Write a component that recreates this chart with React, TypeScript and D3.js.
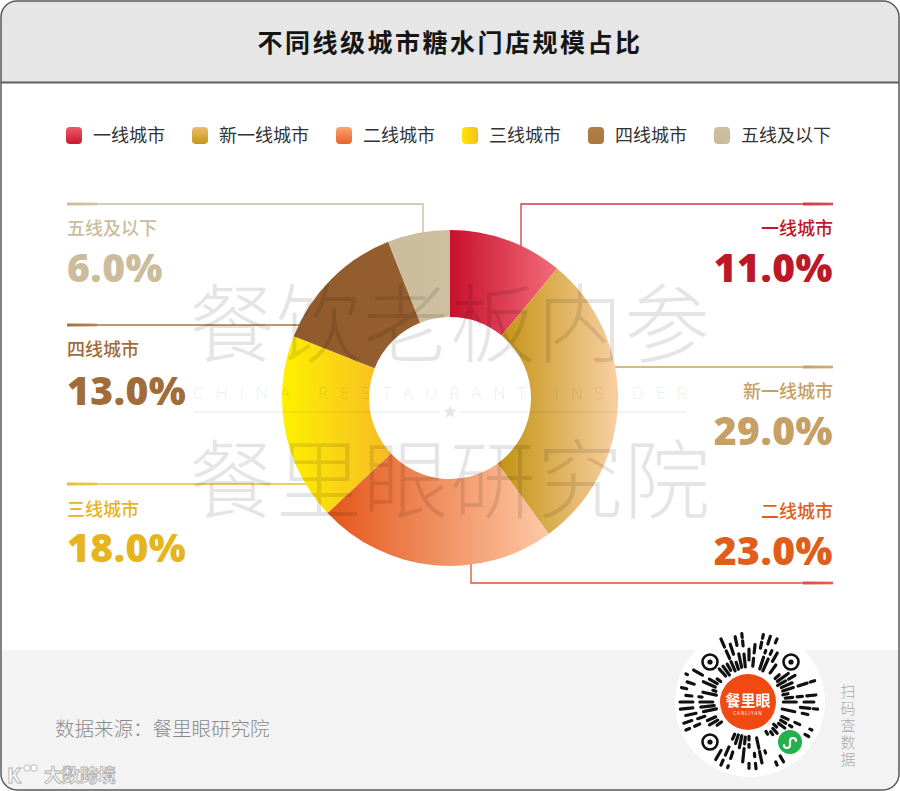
import React, { useEffect } from "react";
import * as d3 from "d3";

// ---------- data ----------
const title = "不同线级城市糖水门店规模占比";
const categories = ["一线城市", "新一线城市", "二线城市", "三线城市", "四线城市", "五线及以下"];
const shares = [11.0, 29.0, 23.0, 18.0, 13.0, 6.0];
const valueLabels = ["11.0%", "29.0%", "23.0%", "18.0%", "13.0%", "6.0%"];
const sourceNote = "数据来源：餐里眼研究院";
const qrSideText = "扫码查数据";

// ---------- styles ----------
const sliceGrad = [
  ["#c8102e", "#f26c79"],
  ["#c29210", "#f9d0a4"],
  ["#e4561a", "#fdc9a6"],
  ["#fff000", "#f6ba26"],
  ["#915a2c", "#965f30"],
  ["#cbbd9c", "#cdbf9f"],
];
const legendGrad = [
  ["#ec5a6a", "#c81a30"],
  ["#ecbc70", "#c69818"],
  ["#f9a674", "#e8602a"],
  ["#ffe600", "#f7bd24"],
  ["#b08048", "#a87640"],
  ["#cdbf9f", "#c9bb99"],
];
const textColors = ["#bd1828", "#c6a064", "#e05e1a", "#e6b41c", "#a26c38", "#cbbd9c"];
const lineColors = ["#d23a44", "#c9a262", "#de5034", "#e8bf30", "#a8733f", "#cbbd9c"];

// callout layout (index into categories)
const callouts = [
  { i: 0, side: "right", lineY: 204, elbowX: 521, labelY: 235, valueY: 282 },
  { i: 1, side: "right", lineY: 367, elbowX: null, labelY: 398, valueY: 445 },
  { i: 2, side: "right", lineY: 583, elbowX: 471, labelY: 518, valueY: 565 },
  { i: 3, side: "left", lineY: 484, elbowX: null, labelY: 516, valueY: 562 },
  { i: 4, side: "left", lineY: 325, elbowX: null, labelY: 356, valueY: 405 },
  { i: 5, side: "left", lineY: 204, elbowX: 423, labelY: 235, valueY: 282 },
];

const CJK = "'Noto Sans CJK SC', 'Noto Sans', sans-serif";
const NUM = "'Open Sans', 'Noto Sans', sans-serif";

function hash(n: number) {
  const x = Math.sin(n * 12.9898 + 78.233) * 43758.5453;
  return x - Math.floor(x);
}

export default function App() {
  useEffect(() => {
    document.body.style.margin = "0";
  }, []);

  const W = 900;
  const H = 791;
  const cx = 450;
  const cy = 398;
  const R = 168;
  const r0 = 81;

  const pie = d3
    .pie<number>()
    .sort(null)
    .value((d) => d)
    .startAngle(0)
    .endAngle(2 * Math.PI);
  const arcs = pie(shares);
  const arcGen = d3.arc<d3.PieArcDatum<number>>().innerRadius(r0).outerRadius(R);

  // legend layout
  let lx = 66;
  const legendItems = categories.map((c, i) => {
    const x = lx;
    lx += 27 + c.length * 18 + 27;
    return { c, i, x };
  });

  // leader lines
  const leaderPaths = callouts.map((co) => {
    const outerX = co.side === "right" ? 833 : 67;
    let d: string;
    if (co.elbowX != null) {
      const dx = co.elbowX - cx;
      const dy = Math.sqrt(R * R - dx * dx);
      const yEdge = co.lineY < cy ? cy - dy + 3 : cy + dy - 3;
      d = `M${outerX},${co.lineY}H${co.elbowX}V${yEdge}`;
    } else {
      const dy = co.lineY - cy;
      const dx = Math.sqrt(R * R - dy * dy);
      const xEdge = co.side === "right" ? cx + dx - 3 : cx - dx + 3;
      d = `M${outerX},${co.lineY}H${xEdge}`;
    }
    const thick = co.side === "right" ? { x1: 803, x2: 833 } : { x1: 67, x2: 97 };
    return { co, d, thick };
  });

  // QR decoration
  const qx = 749;
  const qy = 702;
  const finders = [
    [710, 662],
    [791, 662],
    [710, 742],
  ];
  const green = [790, 742];
  const avoid = [...finders, green];
  const dashes: { x1: number; y1: number; x2: number; y2: number }[] = [];
  const N = 60;
  for (let k = 0; k < N; k++) {
    const a = (k / N) * Math.PI * 2;
    let rr = 33 + hash(k) * 4;
    let j = 0;
    while (rr < 68 && j < 4) {
      const len = 2 + hash(k * 7 + j) * 12;
      const gap = 3 + hash(k * 13 + j * 3) * 6;
      const r1 = rr;
      const r2 = Math.min(rr + len, 69);
      const x1 = qx + r1 * Math.sin(a);
      const y1 = qy - r1 * Math.cos(a);
      const x2 = qx + r2 * Math.sin(a);
      const y2 = qy - r2 * Math.cos(a);
      const mx = (x1 + x2) / 2;
      const my = (y1 + y2) / 2;
      const near = avoid.some(([fx, fy]) => Math.hypot(mx - fx, my - fy) < 15);
      if (!near && hash(k * 5 + j * 11) > 0.25) dashes.push({ x1, y1, x2, y2 });
      rr = r2 + gap;
      j++;
    }
  }

  return (
    <svg
      width={W}
      height={H}
      viewBox={`0 0 ${W} ${H}`}
      style={{ position: "absolute", left: 0, top: 0, display: "block" }}
    >
      <defs>
        {sliceGrad.map((g, i) => (
          <linearGradient key={i} id={`sg${i}`} x1="0" y1="0" x2="1" y2="0">
            <stop offset="0%" stopColor={g[0]} />
            <stop offset="100%" stopColor={g[1]} />
          </linearGradient>
        ))}
        {legendGrad.map((g, i) => (
          <linearGradient
            key={i}
            id={`lg${i}`}
            x1="0"
            y1="0"
            x2={i === 3 ? "1" : "0"}
            y2={i === 3 ? "0" : "1"}
          >
            <stop offset="0%" stopColor={g[0]} />
            <stop offset="100%" stopColor={g[1]} />
          </linearGradient>
        ))}
        {lineColors.map((c, i) => (
          <linearGradient key={i} id={`tk${i}`} x1="0" y1="0" x2="1" y2="0">
            <stop offset="0%" stopColor={c} stopOpacity={1} />
            <stop offset="100%" stopColor={c} stopOpacity={0.55} />
          </linearGradient>
        ))}
        <clipPath id="card">
          <rect x={1} y={1} width={W - 2} height={H - 2} rx={16} />
        </clipPath>
      </defs>

      {/* card backgrounds */}
      <g clipPath="url(#card)">
        <rect x={0} y={0} width={W} height={H} fill="#ffffff" />
        <rect x={0} y={0} width={W} height={82} fill="#e6e6e6" />
        <rect x={0} y={650} width={W} height={H - 650} fill="#f3f3f3" />
      </g>
      <line x1={1} x2={W - 1} y1={82.5} y2={82.5} stroke="#5e5e5e" strokeWidth={2} />
      <rect
        x={1}
        y={1}
        width={W - 2}
        height={H - 2}
        rx={16}
        fill="none"
        stroke="#5a5a5a"
        strokeWidth={1.5}
      />

      {/* title */}
      <text
        x={W / 2}
        y={52}
        textAnchor="middle"
        fontFamily={CJK}
        fontSize={25}
        fontWeight={700}
        letterSpacing={2.5}
        fill="#151515"
      >
        {title}
      </text>

      {/* legend */}
      {legendItems.map(({ c, i, x }) => (
        <g key={c}>
          <rect x={x} y={127} width={16} height={17} rx={4} fill={`url(#lg${i})`} />
          <text x={x + 27} y={141.5} fontFamily={CJK} fontSize={18} fill="#333333">
            {c}
          </text>
        </g>
      ))}

      {/* leader lines */}
      {leaderPaths.map(({ co, d, thick }) => (
        <g key={co.i}>
          <path d={d} fill="none" stroke={lineColors[co.i]} strokeWidth={1.3} />
          <rect
            x={thick.x1}
            y={co.lineY - 1.5}
            width={thick.x2 - thick.x1}
            height={3}
            fill={`url(#tk${co.i})`}
          />
        </g>
      ))}

      {/* donut */}
      <g transform={`translate(${cx},${cy})`}>
        {arcs.map((a, i) => (
          <path key={i} d={arcGen(a) || ""} fill={`url(#sg${i})`} />
        ))}
      </g>

      {/* labels */}
      {callouts.map((co) => {
        const x = co.side === "right" ? 833 : 67;
        const anchor = co.side === "right" ? "end" : "start";
        return (
          <g key={co.i}>
            <text
              x={x}
              y={co.labelY}
              textAnchor={anchor}
              fontFamily={CJK}
              fontSize={18}
              fontWeight={500}
              fill={textColors[co.i]}
            >
              {categories[co.i]}
            </text>
            <text
              x={x}
              y={co.valueY}
              textAnchor={anchor}
              fontFamily={NUM}
              fontSize={39}
              fontWeight={800}
              letterSpacing={0.5}
              fill={textColors[co.i]}
            >
              {valueLabels[co.i]}
            </text>
          </g>
        );
      })}

      {/* watermark */}
      <g fill="#000" fillOpacity={0.1} fontFamily={CJK}>
        <text x={450} y={356} textAnchor="middle" fontSize={86} fontWeight={300} letterSpacing={1}>
          餐饮老板内参
        </text>
        <text
          x={193}
          y={399}
          fontFamily={NUM}
          fontSize={17}
          fontWeight={300}
          textLength={494}
          lengthAdjust="spacing"
        >
          CHINA RESTAURANT INSIDER
        </text>
        <text x={450} y={512} textAnchor="middle" fontSize={86} fontWeight={300} letterSpacing={1}>
          餐里眼研究院
        </text>
      </g>
      <g stroke="#000" strokeOpacity={0.09} strokeWidth={1.2}>
        <line x1={193} x2={440} y1={412} y2={412} />
        <line x1={460} x2={687} y1={412} y2={412} />
      </g>
      <path
        d={d3.symbol(d3.symbolStar, 60)() || ""}
        transform="translate(450,412)"
        fill="#000"
        fillOpacity={0.1}
      />

      {/* footer */}
      <text x={55} y={736} fontFamily={CJK} fontSize={19.5} fontWeight={300} fill="#8a8a8a">
        {sourceNote}
      </text>

      {/* bottom-left mark */}
      <g fill="#ffffff" stroke="#b0b0b0" strokeWidth={0.9}>
        <text x={7} y={783} fontFamily={NUM} fontSize={21} fontWeight={700}>
          K
        </text>
        <circle cx={27} cy={768} r={3.2} />
        <circle cx={34} cy={768} r={3.2} />
        <text x={44} y={782} fontFamily={CJK} fontSize={18} fontWeight={700}>
          大数跨境
        </text>
      </g>

      {/* QR code */}
      <circle cx={qx + 1} cy={qy} r={75} fill="#ffffff" />
      <g stroke="#111" strokeWidth={3.2} strokeLinecap="round">
        {dashes.map((d, i) => (
          <line key={i} x1={d.x1} y1={d.y1} x2={d.x2} y2={d.y2} />
        ))}
      </g>
      {finders.map(([fx, fy], i) => (
        <g key={i}>
          <circle cx={fx} cy={fy} r={7.5} fill="none" stroke="#111" strokeWidth={2.6} />
          <circle cx={fx} cy={fy} r={2.6} fill="#111" />
        </g>
      ))}
      <circle cx={qx - 1} cy={qy} r={28} fill="#f04a12" />
      <text
        x={qx - 1}
        y={qy + 4}
        textAnchor="middle"
        fontFamily={CJK}
        fontSize={15}
        fontWeight={700}
        fill="#fff"
      >
        餐里眼
      </text>
      <text
        x={qx - 1}
        y={qy + 13}
        textAnchor="middle"
        fontFamily={NUM}
        fontSize={4.5}
        letterSpacing={1}
        fill="#fff"
      >
        CANLIYAN
      </text>
      <circle cx={green[0]} cy={green[1]} r={12} fill="#22b14c" />
      <path
        d={`M${green[0] - 5},${green[1] + 2} a3,3 0 1 0 6,0 v-4 a3,3 0 1 1 6,0`}
        fill="none"
        stroke="#fff"
        strokeWidth={2.2}
        strokeLinecap="round"
        transform="translate(-1,1)"
      />
      <text
        x={848}
        y={684}
        writingMode="tb"
        style={{ writingMode: "vertical-rl" as any }}
        fontFamily={CJK}
        fontSize={15}
        fontWeight={300}
        letterSpacing={2}
        fill="#aaaaaa"
      >
        {qrSideText}
      </text>
    </svg>
  );
}
